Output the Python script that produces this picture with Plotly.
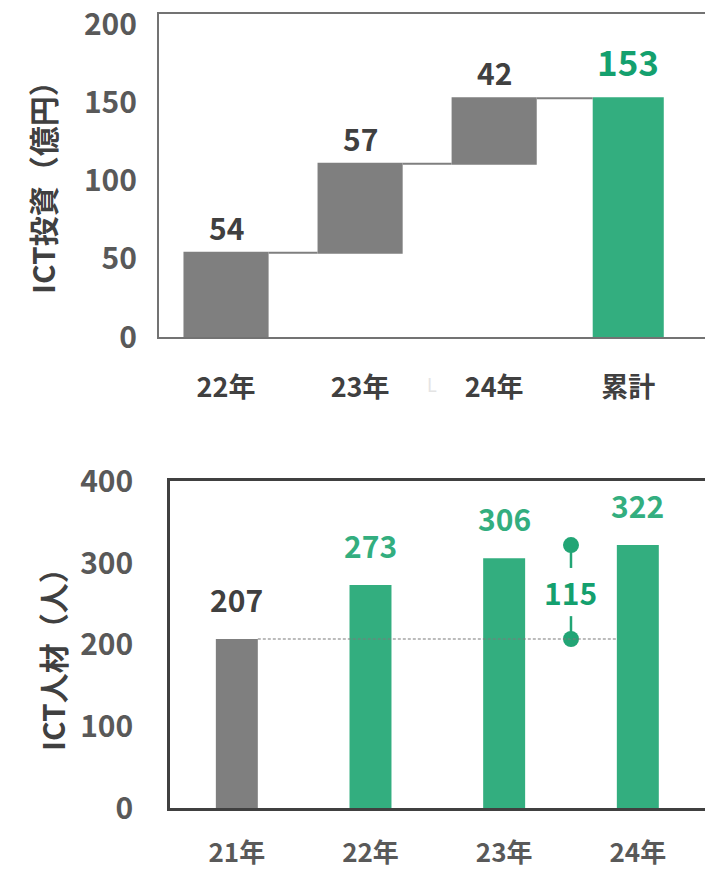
import numpy as np
import plotly.graph_objects as go

# ---- data ----
invest_labels = ["22年", "23年", "24年", "累計"]
invest_values = [54, 57, 42, 153]
invest_measure = ["relative", "relative", "relative", "total"]

people_labels = ["21年", "22年", "23年", "24年"]
people_values = [207, 273, 306, 322]

y1_ticks = [0, 50, 100, 150, 200]
y2_ticks = [0, 100, 200, 300, 400]

GRAY = "#7f7f7f"
GREEN = "#33ae7f"
GREEN_DK = "#14a06e"
TXT = "#404040"
TICK = "#595959"
FONT = "Noto Sans CJK JP"

# page body has an 8px margin, so size the figure to the visible area
W, H, OFF = 705, 863, 8


def px(x):
    return (x - OFF) / W


def py(y):
    return 1 - (y - OFF) / H


fig = go.Figure()

x1 = list(range(len(invest_labels)))
x2 = list(range(len(people_labels)))

# top: waterfall of ICT investment
fig.add_trace(go.Waterfall(
    x=x1, y=invest_values, measure=invest_measure,
    width=[0.635, 0.635, 0.635, 0.53],
    increasing=dict(marker=dict(color=GRAY)),
    totals=dict(marker=dict(color=GREEN)),
    connector=dict(line=dict(color=GRAY, width=2), mode="between"),
    xaxis="x", yaxis="y", showlegend=False, hoverinfo="skip",
))

# bar tops for labels
tops = list(np.cumsum(invest_values[:3])) + [invest_values[3]]
lab_col = [TXT, TXT, TXT, GREEN_DK]
lab_size = [30, 30, 30, 35]
lab_shift = [2, 2, 2, 10]
for xi, top, v, c, s, sh in zip(x1, tops, invest_values, lab_col, lab_size, lab_shift):
    fig.add_annotation(x=xi, y=top, xref="x", yref="y", text=f"<b>{v}</b>",
                       showarrow=False, yanchor="bottom", yshift=sh,
                       font=dict(family=FONT, size=s, color=c))

# bottom: ICT people bars
bar_w = 0.314
fig.add_trace(go.Bar(
    x=x2, y=people_values, width=bar_w,
    marker=dict(color=[GRAY] + [GREEN] * 3, line=dict(width=0)),
    xaxis="x2", yaxis="y2", showlegend=False, hoverinfo="skip",
))
for i, (xi, v) in enumerate(zip(x2, people_values)):
    fig.add_annotation(x=xi, y=v, xref="x2", yref="y2", text=f"<b>{v}</b>",
                       showarrow=False, yanchor="bottom", yshift=16,
                       font=dict(family=FONT, size=30, color=TXT if i == 0 else GREEN))

# dashed baseline at 21年 level
fig.add_shape(type="line", xref="x2", yref="y2",
              x0=x2[0] + bar_w / 2, x1=x2[-1] - bar_w / 2,
              y0=people_values[0], y1=people_values[0],
              line=dict(color="#7a7a7a", width=1.2, dash="3px,2px"))

# difference indicator between 23年 and 24年
diff = people_values[-1] - people_values[0]
xm = (x2[-2] + x2[-1]) / 2
fig.add_trace(go.Scatter(
    x=[xm, xm], y=[people_values[-1], people_values[0]], mode="markers",
    marker=dict(size=16, color="#22a575"),
    xaxis="x2", yaxis="y2", showlegend=False, hoverinfo="skip",
))
seg = 28
fig.add_shape(type="line", xref="x2", yref="y2", x0=xm, x1=xm,
              y0=people_values[-1], y1=people_values[-1] - seg,
              line=dict(color="#22a575", width=2.5))
fig.add_shape(type="line", xref="x2", yref="y2", x0=xm, x1=xm,
              y0=people_values[0], y1=people_values[0] + seg,
              line=dict(color="#22a575", width=2.5))
fig.add_annotation(x=xm, y=(people_values[-1] + people_values[0]) / 2,
                   xref="x2", yref="y2", text=f"<b>{diff}</b>", showarrow=False,
                   font=dict(family=FONT, size=30, color=GREEN_DK))

# axis titles
fig.add_annotation(x=px(42), y=py(180), xref="paper", yref="paper",
                   xanchor="center", yanchor="middle",
                   text="<b>ICT投資（億円）</b>", textangle=-90, showarrow=False,
                   font=dict(family=FONT, size=30, color=TXT))
fig.add_annotation(x=px(52), y=py(652), xref="paper", yref="paper",
                   xanchor="center", yanchor="middle",
                   text="<b>ICT人材（人）</b>", textangle=-90, showarrow=False,
                   font=dict(family=FONT, size=30, color=TXT))

# stray mark seen in the source image
fig.add_annotation(x=px(432), y=py(384), xref="paper", yref="paper",
                   xanchor="center", yanchor="middle",
                   text="L", showarrow=False,
                   font=dict(family=FONT, size=18, color="#e4e4e4"))

yfont = dict(family=FONT, size=30, color=TICK)

fig.update_layout(
    width=W, height=H,
    margin=dict(l=0, r=0, t=0, b=0, autoexpand=False),
    paper_bgcolor="white", plot_bgcolor="white",
    font=dict(family=FONT),
    xaxis=dict(domain=[px(159), px(706)], anchor="y", range=[-0.5, 3.58],
               tickvals=x1, ticktext=[f"<b>{t}</b>" for t in invest_labels],
               tickfont=dict(family=FONT, size=27, color=TXT), ticks="",
               ticklabelstandoff=26, automargin=False,
               showgrid=False, zeroline=False, showline=True, mirror=True,
               linecolor="#737373", linewidth=2),
    yaxis=dict(domain=[py(337), py(14)], anchor="x", range=[0, 207],
               tickvals=y1_ticks, ticktext=[f"<b>{t}</b>" for t in y1_ticks],
               tickfont=yfont, ticks="", ticklabelstandoff=14, automargin=False,
               ticklabeloverflow="allow",
               showgrid=False, zeroline=False, showline=True, mirror=True,
               linecolor="#737373", linewidth=2),
    xaxis2=dict(domain=[px(170), px(710)], anchor="y2", range=[-0.5, 3.54],
                tickvals=x2, ticktext=[f"<b>{t}</b>" for t in people_labels],
                tickfont=dict(family=FONT, size=26, color=TICK), ticks="",
                ticklabelstandoff=20, automargin=False, ticklabeloverflow="allow",
                showgrid=False, zeroline=False, showline=True, mirror=True,
                linecolor="#404040", linewidth=2.5),
    yaxis2=dict(domain=[py(808), py(481)], anchor="x2", range=[0, 400.5],
                tickvals=y2_ticks, ticktext=[f"<b>{t}</b>" for t in y2_ticks],
                tickfont=yfont, ticks="", ticklabelstandoff=28, automargin=False,
                showgrid=False, zeroline=False, showline=True, mirror=True,
                linecolor="#404040", linewidth=2.5),
)

fig.write_html("out.html")
